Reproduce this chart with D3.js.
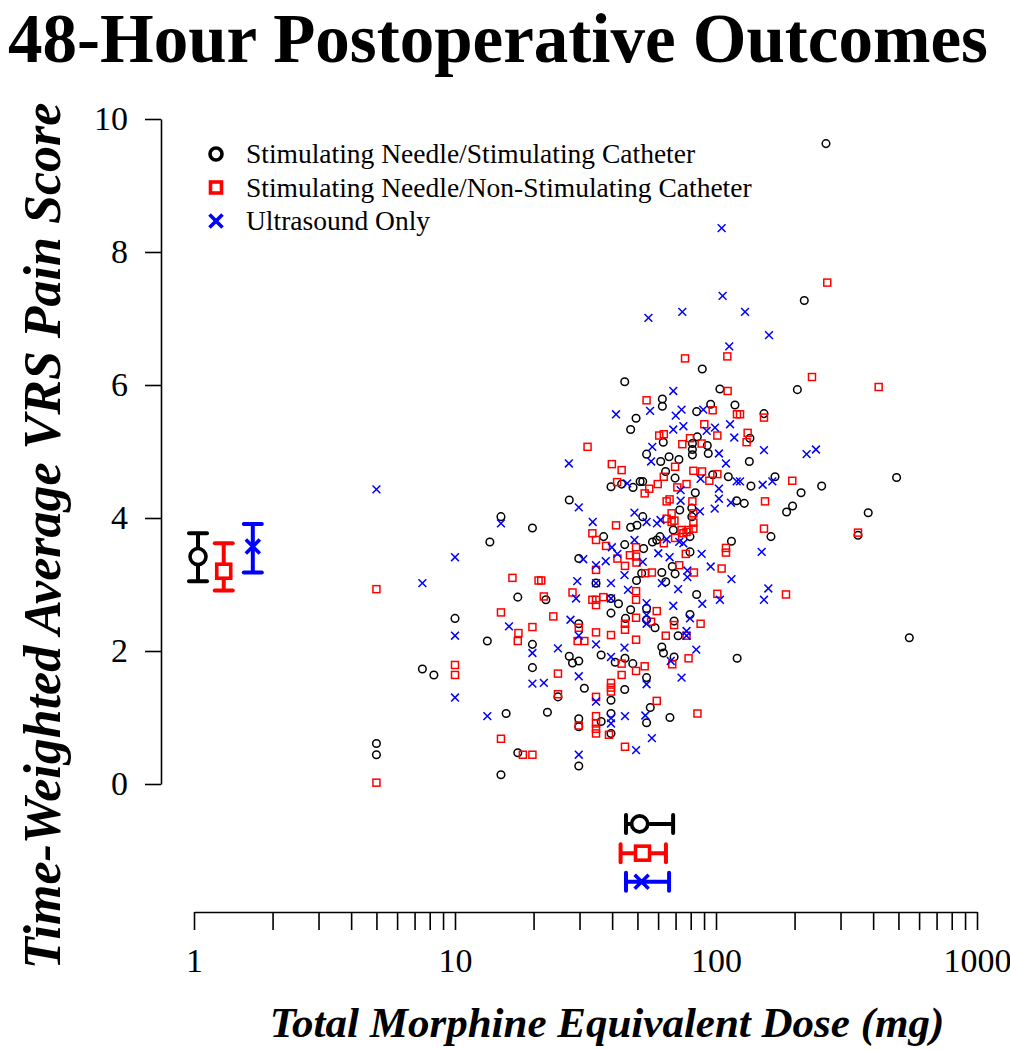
<!DOCTYPE html>
<html><head><meta charset="utf-8">
<script src="https://cdn.jsdelivr.net/npm/d3@7"></script>
<style>body{margin:0;background:#fff} svg{display:block}</style>
</head><body>
<svg id="c" width="1010" height="1050"></svg>
<script>
// ---------- DATA ----------
const groupNames = ["Stimulating Needle/Stimulating Catheter","Stimulating Needle/Non-Stimulating Catheter","Ultrasound Only"];
const groupColors = ["#000000","#ff0000","#0000ff"];
const groupShapes = ["circle","square","cross"];

// [dose mg, pain score]
const snscPoints = [
[15.0,4.02],[19.8,3.85],[13.6,3.64],[17.4,2.81],[10,2.49],[13.3,2.15],[19.8,2.10],[19.8,1.75],[7.5,1.73],[8.3,1.64],[15.7,1.06],[17.4,0.47],[5,0.61],[5,0.44],[15,0.14],
[44.7,6.05],[49.4,5.5],[47.1,5.33],[39.6,4.47],[43.5,4.51],[48.1,4.46],[51.2,4.55],[27.4,4.27],[47.1,3.86],[49.8,3.89],[37.1,3.72],[44.7,3.60],
[29.8,3.39],[49.6,3.06],[34.7,3.02],[22.3,2.77],[39.6,2.79],[42.3,2.71],[39.6,2.57],[47.1,2.62],[45.0,2.49],[29.8,2.41],[27.4,1.92],[28.2,1.82],[29.8,1.85],[36.3,1.94],[41.1,1.83],[44.8,1.89],[48.0,1.81],[24.8,1.31],[31.3,1.44],[44.7,1.42],[39.6,1.26],[22.6,1.08],[39.6,1.06],[36.3,0.94],[29.8,0.98],[29.8,0.86],[39.6,0.76],[29.8,0.27],
[88.6,6.24],[103.5,5.94],[62.3,5.79],[62.3,5.68],[84.3,5.60],[95.4,5.71],[118.2,5.70],[62.8,5.14],[84.8,5.22],[81.2,5.12],[81.2,5.03],[81.2,4.95],[92.6,5.09],[93.4,4.97],[54.2,4.96],[61.4,4.85],[66.1,4.92],[72.1,4.88],[64.1,4.70],[97.1,4.65],[111.5,4.62],[52.4,4.55],[69.7,4.60],[83.3,4.38],[120,4.26],[72.6,4.12],[52.4,4.02],[80.8,4.15],[80.8,4.02],[68.6,3.82],[57.1,3.64],[59.3,3.67],[61,3.72],[79.5,3.72],[114.6,3.65],[52.8,3.54],
[79.5,3.49],[51.9,3.17],[62,3.18],[68,3.27],[64.2,3.04],[69.7,3.16],[84.3,2.85],[54.2,2.64],[54.2,2.47],[58.4,2.35],[69.1,2.45],[79.5,2.55],[71.6,2.23],[62,2.06],[62.9,1.97],[69.1,1.91],[120.5,1.89],[54.2,1.60],[56,1.15],[54.2,0.92],[66.6,1.0],
[263.9,9.63],[217.9,7.27],[205,5.93],[152.7,5.57],[134.9,5.2],[134.2,4.85],[136.1,4.48],[168.3,4.62],[211.8,4.38],[254,4.48],[492,4.61],[128.3,4.22],[196.5,4.18],[186.4,4.09],[383,4.08],[162.4,3.72],[350,3.74],[550.4,2.2]
];
const snnscPoints = [
[16.6,3.10],[20.9,3.06],[5,2.93],[15,2.58],[19.8,2.36],[17.5,2.27],[17.4,2.15],[10,1.79],[10,1.64],[15,0.68],[18.2,0.44],[19.8,0.44],[5,0.02],
[32.2,5.07],[39.9,4.81],[43.5,4.72],[41.8,4.54],[41.4,3.89],[33.6,3.77],[34.7,3.67],[37.9,3.58],[49.4,3.56],
[34.7,3.22],[41.9,3.39],[44.8,3.28],[46.8,3.44],[49.4,3.42],[49.6,3.33],[21.4,3.06],[21.9,2.82],[28.2,2.88],[33.6,2.77],[34.7,2.77],[34.7,2.69],[37,2.81],[49.4,2.90],[49.4,2.77],[44.8,2.41],[44.8,2.32],[49.4,2.50],[23.8,2.52],[29.8,2.35],[29.5,2.15],[31.3,2.15],[34.7,2.28],[39.6,2.24],[49.4,2.17],[43.5,1.81],[49.4,1.70],[43.5,1.64],[24.8,1.66],[24.8,1.35],[39.6,1.52],[39.6,1.45],[39.6,1.39],[34.7,1.31],[34.7,1.02],[34.7,0.91],[34.7,0.83],[34.7,0.76],[29.8,0.88],[38.9,0.74],[44.8,0.56],
[76.1,6.40],[110.5,6.43],[110.8,5.91],[54.2,5.77],[97.1,5.62],[120.3,5.56],[90.2,5.41],[101.2,5.24],[60.6,5.24],[63.1,5.26],[79.5,5.20],[74.3,5.11],[88.1,5.12],[69.7,4.77],[81.9,4.71],[88.4,4.70],[101.2,4.66],[59.8,4.51],[63.1,4.62],[71.1,4.46],[77.1,4.51],[94.3,4.56],[53.3,4.37],[55.5,4.44],[64.7,4.25],[66.4,4.28],[81.2,4.25],[67.6,4.07],[81.9,4.07],[81.9,3.93],[64.7,3.99],[67.6,3.94],[69.3,3.96],[73.8,3.82],[78.5,3.82],[81.9,3.84],[63.1,3.62],[69.7,3.70],[75,3.77],[77.1,3.79],[109.2,3.55],
[76.6,3.46],[109.2,3.48],[56.8,3.18],[53.6,3.17],[72.3,3.29],[82.3,3.18],[105.1,3.24],[101.2,2.86],[59.3,2.60],[56.4,2.44],[69.1,2.39],[87.3,2.41],[64.2,2.23],[77.1,2.23],[68,1.80],[78.5,1.89],[53.3,1.77],[59.3,1.25],[84.9,1.06],
[266.9,7.54],[233.2,6.12],[420,5.97],[152.7,5.51],[123.6,5.56],[132.2,5.28],[131,5.14],[196,4.56],[154.1,4.25],[152.7,3.84],[350,3.78],[185.4,2.85]
];
const usPoints = [
[5,4.43],[15,3.92],[10,3.41],[7.5,3.02],[16.1,2.37],[10,2.23],[19.8,1.97],[10,1.30],[19.8,1.51],[13.3,1.02],
[41.4,5.56],[27.3,4.82],[45.7,4.52],[29.8,4.16],[33.7,3.94],[48.7,4.08],[39.9,3.56],[48.7,3.67],
[31,3.38],[34.7,3.29],[37.8,3.35],[41.9,3.46],[44.6,3.14],[29.4,3.05],[34.7,3.02],[39.6,3.02],[29.1,2.79],[39.6,2.79],[46,2.92],[27.7,2.47],[29.8,2.23],[34.7,2.10],[44.6,2.05],[24.8,2.04],[39.6,1.91],[21.9,1.52],[29.8,1.62],[34.7,1.24],[39.6,0.99],[39.6,0.91],[44.8,1.02],[49.4,0.51],[29.8,0.44],
[74.3,7.10],[55.1,7.01],[112.4,6.58],[68.6,5.91],[55.9,5.61],[73.8,5.63],[70.1,5.54],[89.4,5.63],[68.6,5.33],[75,5.38],[99.1,5.36],[113.2,5.41],[117.5,5.21],[92.1,5.31],[102.6,4.97],[57,5.07],[56.4,4.85],[109.2,4.82],[120,4.55],[87.3,4.59],[73.2,4.42],[102.6,4.44],[102.6,4.29],[73.2,4.26],[114.1,4.23],[86.8,4.10],[98.9,4.14],[54.2,3.94],[59.4,3.92],[61.3,3.97],[64.7,3.68],[72.3,3.64],[75,3.62],
[60.1,3.47],[66.4,3.41],[88.1,3.46],[52.4,3.34],[62,3.02],[77.7,3.21],[77.7,3.11],[95.4,3.27],[114.6,3.08],[71.6,2.93],[88.6,2.71],[103.5,2.77],[54.2,2.72],[68.6,2.68],[54.2,2.54],[54.2,2.41],[79.5,2.49],[77.1,2.23],[77.1,2.30],[84,2.02],[67.1,1.85],[54.2,1.50],[73.8,1.60],[53.6,1.03],[56.8,0.69],
[129.2,7.10],[159.6,6.75],[152.7,5.02],[222.4,4.96],[241.5,5.03],[123.6,4.55],[150.9,4.50],[164.4,4.55],[149.6,3.49],[158.7,2.94],[152.7,2.77],[105.1,8.36],[106,7.34]
];

// summary: pain mean and 95% CI (drawn at left), dose mean and CI (drawn at bottom)
const painMean = [3.42, 3.20, 3.57];
const painLow  = [3.05, 2.91, 3.18];
const painHigh = [3.77, 3.62, 3.91];
const doseMean = [51.0, 52.3, 51.9];
const doseLow  = [45.2, 43.1, 45.2];
const doseHigh = [68.5, 64.3, 66.1];

const yTicks = [0,2,4,6,8,10];
const xLabelTicks = [1,10,100,1000];

// ---------- DRAW ----------
const svg = d3.select("#c");
const FONT = "'Liberation Serif','Times New Roman',serif";
const x = d3.scaleLog().domain([1,1000]).range([194,977]);
const y = d3.scaleLinear().domain([0,10]).range([784,119]);

// slot positions (in data coordinates) for summary markers
const summaryXSlots = [1.036, 1.30, 1.68];
const summaryYSlots = [-0.60, -1.04, -1.47];

function marker(g, shape, cx, cy, s, color, sw) {
  if (shape === "circle") {
    g.append("circle").attr("cx",cx).attr("cy",cy).attr("r",s).attr("fill","none").attr("stroke",color).attr("stroke-width",sw);
  } else if (shape === "square") {
    g.append("rect").attr("x",cx-s).attr("y",cy-s).attr("width",2*s).attr("height",2*s).attr("fill","none").attr("stroke",color).attr("stroke-width",sw);
  } else {
    g.append("path").attr("d",`M${cx-s},${cy-s}L${cx+s},${cy+s}M${cx-s},${cy+s}L${cx+s},${cy-s}`).attr("stroke",color).attr("stroke-width",sw).attr("fill","none");
  }
}
function whiteBg(g, shape, cx, cy) {
  if (shape === "circle") g.append("circle").attr("cx",cx).attr("cy",cy).attr("r",8).attr("fill","#fff");
  else if (shape === "square") g.append("rect").attr("x",cx-7).attr("y",cy-7).attr("width",14).attr("height",14).attr("fill","#fff");
}

// title
svg.append("text").attr("x",498).attr("y",62).attr("text-anchor","middle")
  .attr("font-family",FONT).attr("font-weight","bold").attr("font-size",69).text("48-Hour Postoperative Outcomes");

// y axis
const yAxis = d3.axisLeft(y).tickValues(yTicks).tickSize(16).tickPadding(17).tickSizeOuter(0).tickFormat(d3.format("d"));
const gy = svg.append("g").attr("transform","translate(161,0)").call(yAxis);
gy.selectAll("path,line").attr("stroke","#000").attr("stroke-width",1.6);
gy.selectAll("text").attr("font-family",FONT).attr("font-size",34).attr("fill","#000");

// x axis
const xTickVals = [];
[1,10,100].forEach(b => { for (let k=1;k<10;k++) xTickVals.push(b*k); });
xTickVals.push(1000);
const xAxis = d3.axisBottom(x).tickValues(xTickVals).tickSize(18).tickPadding(18).tickSizeOuter(0)
  .tickFormat(d => xLabelTicks.includes(d) ? d3.format("d")(d) : "");
const gx = svg.append("g").attr("transform","translate(0,912)").call(xAxis);
gx.selectAll("path,line").attr("stroke","#000").attr("stroke-width",1.6);
gx.selectAll("text").attr("font-family",FONT).attr("font-size",34).attr("fill","#000");

// axis titles
svg.append("text").attr("transform","translate(60,536) rotate(-90)").attr("text-anchor","middle")
  .attr("font-family",FONT).attr("font-weight","bold").attr("font-style","italic").attr("font-size",52)
  .text("Time-Weighted Average VRS Pain Score");
svg.append("text").attr("x",607).attr("y",1037).attr("text-anchor","middle")
  .attr("font-family",FONT).attr("font-weight","bold").attr("font-style","italic").attr("font-size",43)
  .text("Total Morphine Equivalent Dose (mg)");

// scatter
const series = [snscPoints, snnscPoints, usPoints];
const gp = svg.append("g");
series.forEach((pts, i) => {
  pts.forEach(p => {
    const sz = groupShapes[i]==="circle" ? 3.8 : (groupShapes[i]==="square" ? 3.5 : 3.9);
    marker(gp, groupShapes[i], x(p[0]), y(p[1]), sz, groupColors[i], 1.5);
  });
});

// summary: pain (vertical error bars at left)
const gs = svg.append("g");
groupNames.forEach((n, i) => {
  const cx = x(summaryXSlots[i]);
  gs.append("line").attr("x1",cx).attr("x2",cx).attr("y1",y(painLow[i])).attr("y2",y(painHigh[i])).attr("stroke",groupColors[i]).attr("stroke-width",4);
  [painLow[i], painHigh[i]].forEach(v => gs.append("line").attr("x1",cx-9).attr("x2",cx+9).attr("y1",y(v)).attr("y2",y(v)).attr("stroke",groupColors[i]).attr("stroke-width",4).attr("stroke-linecap","round"));
  const cy = y(painMean[i]);
  whiteBg(gs, groupShapes[i], cx, cy);
  marker(gs, groupShapes[i], cx, cy, groupShapes[i]==="circle"?8:7, groupColors[i], 3.6);
});
// summary: dose (horizontal error bars at bottom)
groupNames.forEach((n, i) => {
  const cy = y(summaryYSlots[i]);
  gs.append("line").attr("y1",cy).attr("y2",cy).attr("x1",x(doseLow[i])).attr("x2",x(doseHigh[i])).attr("stroke",groupColors[i]).attr("stroke-width",4);
  [doseLow[i], doseHigh[i]].forEach(v => gs.append("line").attr("y1",cy-9).attr("y2",cy+9).attr("x1",x(v)).attr("x2",x(v)).attr("stroke",groupColors[i]).attr("stroke-width",4).attr("stroke-linecap","round"));
  const cx = x(doseMean[i]);
  whiteBg(gs, groupShapes[i], cx, cy);
  marker(gs, groupShapes[i], cx, cy, groupShapes[i]==="circle"?8:7, groupColors[i], 3.6);
});

// legend
const gl = svg.append("g");
groupNames.forEach((n, i) => {
  const ly = 154 + i*33.5;
  marker(gl, groupShapes[i], 216, ly, groupShapes[i]==="circle"?6:(groupShapes[i]==="square"?5.5:6.5), groupColors[i], 3.6);
  gl.append("text").attr("x",246).attr("y",ly+9).attr("font-family",FONT).attr("font-size",27.5).attr("fill","#000").text(n);
});
</script>
</body></html>
